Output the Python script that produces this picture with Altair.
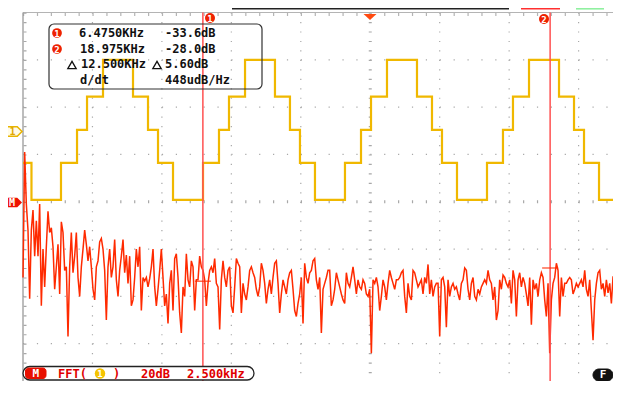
import altair as alt
import pandas as pd

# ---------------- data ----------------
# Channel 1 staircase: edge times (screen divisions) and level after each edge (divisions)
wave_t = [0.000, 0.122, 0.547, 0.778, 0.922, 1.152, 1.584, 1.800, 1.944, 2.160,
          2.592, 2.822, 2.966, 3.197, 3.628, 3.844, 3.988, 4.204, 4.636,
          4.867, 5.011, 5.241, 5.673, 5.889, 6.033, 6.249, 6.681,
          6.911, 7.055, 7.286, 7.718, 7.934, 8.078, 8.294, 8.582]
wave_level = [4.82, 4.04, 4.82, 5.52, 6.22, 7.0, 6.22, 5.52, 4.82, 4.04,
              4.82, 5.52, 6.22, 7.0, 6.22, 5.52, 4.82, 4.04, 4.82,
              5.52, 6.22, 7.0, 6.22, 5.52, 4.82, 4.04, 4.82,
              5.52, 6.22, 7.0, 6.22, 5.52, 4.82, 4.04, 4.04]

# FFT of CH1: one value (dB) per bin, bins 0.06 kHz apart from 0 kHz
fft_bin_khz = 0.06
fft_db = [
    -32, 21, -1, -12, -41, -12, -3.5, -23, -8, -23,
    -1, -44, -20, -36, -19, -4, -13, -11, -19, -37,
    -27.5, -18, -39, -8.5, -13, -29, -27.5, -57, -27.5, -13,
    -30, -23, -13, -32, -40, -27.5, -20, -12, -18, -25,
    -19, -27.5, -37, -41.5, -27.5, -25, -17, -15.5, -20, -29,
    -50, -27.5, -20, -32, -27.5, -16, -33, -40, -29, -23,
    -16, -30, -22.5, -34.5, -23, -44, -41.5, -32, -20, -27.5,
    -19, -46, -32, -33.5, -32, -36, -32.5, -27.5, -20, -36,
    -44, -37, -29, -20, -32, -44, -39, -51.5, -34.5, -29,
    -46, -24, -22, -32, -47, -55.5, -36, -40, -22, -33,
    -36, -25, -27.5, -46, -33, -33,
    -23, -27.5, -29, -33, -44, -34.5, -29, -27.5, -30, -24,
    -34.5, -36, -54, -33, -25, -32, -36, -29, -27.5, -44,
    -47, -36, -24, -26, -27.5, -47, -34.5, -39, -41.5, -36,
    -29, -27.5, -30, -32, -37, -40, -36, -26, -29, -34.5,
    -43, -37, -33, -39, -32, -26, -25, -34.5, -47, -39,
    -33, -36, -39, -33, -30, -29, -37, -46, -48.5, -43,
    -39, -32, -51.5, -26, -32, -34.5, -30, -29, -25, -24,
    -33, -37, -32, -55.5, -37, -34.5, -32, -29, -29, -44,
    -41.5, -37, -30, -33, -36, -39, -41.5, -43, -30, -34.5,
    -36, -32, -27.5, -33, -39, -33, -36, -37, -33, -34.5,
    -39, -40, -37, -64, -33, -34.5, -32, -36, -46, -40,
    -33, -36, -41.5, -34.5, -29, -32, -34.5, -37, -33, -33,
    -32, -30, -29, -40, -47, -34.5, -40, -41.5, -29, -30,
    -33, -36, -34.5, -33, -39, -32, -34.5, -26.5, -39, -33,
    -40, -36, -34.5, -34.5, -57, -33, -32, -36, -53, -33,
    -40, -36, -34.5, -37, -36, -39, -41.5, -34.5, -33, -28,
    -29, -37, -41.5, -34.5, -32, -40, -41.5, -37, -39, -36,
    -34.5, -33, -34.5, -29, -33, -34.5, -41.5, -36, -50, -46,
    -33, -37, -31, -32, -34.5, -36, -33, -43, -29, -33,
    -48.5, -33, -30, -36, -32, -34.5, -39, -44, -32, -52,
    -33, -37, -34.5, -40, -33, -30, -32, -41.5, -48.5, -34.5,
    -64, -41.5, -34.5, -32, -26, -29, -48.5, -32, -40, -34.5,
    -34.5, -33, -32, -33, -39, -37, -34.5, -36,
    -34.5, -33, -36, -29, -37, -40, -33, -46, -58.5, -41.5,
    -34.5, -30, -29, -37, -34.5, -40, -33, -38.5, -34.5, -43,
    -31.5, -36, -41.5, -37,
]

marker_names = ["1", "2"]
marker_khz = [6.475, 18.975]
marker_db = [-33.6, -28.0]

khz_per_div = 2.5      # FFT horizontal scale
db_per_div = 20.0      # FFT vertical scale
math_ref_div = 4.0     # "M" reference level (screen divisions)
screen_right_div = 8.58

grid_x = [1, 2, 3, 4, 6, 7, 8]
grid_y = [1, 2, 3, 5, 6, 7]

# ---------------- frames ----------------
wave_df = pd.DataFrame({"x": wave_t, "y": wave_level})
fft_df = pd.DataFrame({"khz": [i * fft_bin_khz for i in range(len(fft_db))], "db": fft_db})
fft_df["x"] = fft_df["khz"] / khz_per_div
fft_df["y"] = math_ref_div + fft_df["db"] / db_per_div
mk_df = pd.DataFrame({"name": marker_names, "khz": marker_khz, "db": marker_db})
mk_df["x"] = mk_df["khz"] / khz_per_div
mk_df["y"] = math_ref_div + mk_df["db"] / db_per_div
mk_df["top"] = 8.0
mk_df["bot"] = 0.0

gx_df = pd.DataFrame({"x": grid_x, "top": 8.0, "bot": 0.0})
gy_df = pd.DataFrame({"y": grid_y, "l": 0.0, "r": screen_right_div})
cx_df = pd.DataFrame({"x": [5.0], "top": [8.0], "bot": [0.0]})
cy_df = pd.DataFrame({"y": [4.0], "l": [0.0], "r": [screen_right_div]})
one = pd.DataFrame({"a": [0]})

W, H = 605, 373
xs = alt.Scale(domain=[0, 10], range=[15, 709.5], zero=False, nice=False)
ys = alt.Scale(domain=[0, 8], range=[383, 4.5], zero=False, nice=False)

def X(f):
    return alt.X(f, type="quantitative", scale=xs, axis=None)

def Y(f):
    return alt.Y(f, type="quantitative", scale=ys, axis=None)

MONO = "DejaVu Sans Mono"

def txt(s, x, y, color="#111111", size=12, align="left", weight="bold"):
    return alt.Chart(one).mark_text(text=s, align=align, baseline="middle", fontSize=size,
                                    fontWeight=weight, font=MONO, color=color).encode(
        x=alt.value(x), y=alt.value(y))

def hline(x1, x2, y, color, w=1.0, dash=None):
    kw = dict(color=color, strokeWidth=w)
    if dash:
        kw["strokeDash"] = dash
    return alt.Chart(one).mark_rule(**kw).encode(x=alt.value(x1), x2=alt.value(x2), y=alt.value(y))

def vline(x, y1, y2, color, w=1.0, dash=None):
    kw = dict(color=color, strokeWidth=w)
    if dash:
        kw["strokeDash"] = dash
    return alt.Chart(one).mark_rule(**kw).encode(x=alt.value(x), y=alt.value(y1), y2=alt.value(y2))

def box(x1, x2, y1, y2, fill, stroke, r, w=1.0, fop=1.0):
    return alt.Chart(one).mark_rect(fill=fill, fillOpacity=fop, stroke=stroke, strokeWidth=w,
                                    cornerRadius=r).encode(
        x=alt.value(x1), x2=alt.value(x2), y=alt.value(y1), y2=alt.value(y2))

def sym(shape, x, y, size, fill, stroke=None, sw=0, filled=True):
    kw = dict(shape=shape, size=size, filled=filled, opacity=1)
    if filled:
        kw["fill"] = fill
        kw["fillOpacity"] = 1
    if stroke:
        kw["stroke"] = stroke
        kw["strokeWidth"] = sw
    return alt.Chart(one).mark_point(**kw).encode(x=alt.value(x), y=alt.value(y))

DOT = "#a8a8a8"
layers = []

# grid dots
layers.append(alt.Chart(gx_df).mark_rule(color=DOT, strokeWidth=1.2, strokeDash=[1.2, 8.26]).encode(
    x=X("x"), y=Y("top"), y2="bot"))
layers.append(alt.Chart(gy_df).mark_rule(color=DOT, strokeWidth=1.2, strokeDash=[1.2, 12.69]).encode(
    x=X("l"), x2="r", y=Y("y")))
layers.append(alt.Chart(cx_df).mark_rule(color=DOT, strokeWidth=3, strokeDash=[1.2, 8.26]).encode(
    x=X("x"), y=Y("top"), y2="bot"))
layers.append(alt.Chart(cy_df).mark_rule(color=DOT, strokeWidth=3, strokeDash=[1.2, 12.69]).encode(
    x=X("l"), x2="r", y=Y("y")))

# borders and border ticks
layers.append(hline(15, 605, 4.5, "#b4b4b4", 1.2))
layers.append(hline(15, 605, 6.5, "#b4b4b4", 3, [1.2, 12.69]))
layers.append(vline(15, 4.5, 373, "#9a9a9a", 1.3))
layers.append(vline(17, 4.5, 373, "#a8a8a8", 3, [1.2, 8.26]))

# top status strip
layers.append(hline(224, 501, 0.8, "#222222", 1.6))
layers.append(hline(513, 552, 0.8, "#ff3030", 1.6))
layers.append(hline(568, 596, 0.8, "#90f0a0", 1.6))

# CH1 waveform
layers.append(alt.Chart(wave_df).mark_line(interpolate="step-after", color="#f0b800", strokeWidth=2.2,
                                           clip=True).encode(x=X("x"), y=Y("y")))

# FFT spectrum
layers.append(alt.Chart(fft_df).mark_line(color="#ff2a00", strokeWidth=1.5, clip=True).encode(
    x=X("x"), y=Y("y")))

# marker cursors
layers.append(alt.Chart(mk_df).mark_rule(color="#ff5050", strokeWidth=1.5).encode(
    x=X("x"), y=Y("top"), y2="bot"))
layers.append(alt.Chart(mk_df).mark_tick(color="#ff2a00", orient="horizontal", size=16, thickness=1.5).encode(
    x=X("x"), y=Y("y")))

# trigger marker
layers.append(sym("M-1,-0.45L1,-0.45L0,0.45Z", 362, 9, 169, "#ff4a10"))

# top marker badges
for nm, bx, by in [("1", 202, 10), ("2", 536, 11)]:
    layers.append(sym("circle", bx, by, 100, "#ee2200"))
    layers.append(txt(nm, bx, by + 0.5, "white", 9, "center"))

# channel / math tags at the left
layers.append(sym("M-1,-0.5L0.5,-0.5L1,0L0.5,0.5L-1,0.5Z", 4.5, 123.5, 361, "#fffbe6", "#e8b400", 1.5))
layers.append(txt("1", 4.5, 123.5, "#e0a800", 10, "center"))
layers.append(sym("M-1,-0.5L0.5,-0.5L1,0L0.5,0.5L-1,0.5Z", 4.5, 194.5, 361, "#ee1100"))
layers.append(txt("M", 4, 194.5, "white", 10, "center"))

# marker readout box
layers.append(box(41, 254, 16, 81, "white", "#333333", 5, 1.2, 0))
for nm, cy in [("1", 25), ("2", 41)]:
    layers.append(sym("circle", 49, cy, 95, "#ee2200"))
    layers.append(txt(nm, 49, cy + 0.5, "white", 9, "center"))
layers.append(txt("6.4750KHz", 71, 25))
layers.append(txt("-33.6dB", 157, 25))
layers.append(txt("18.975KHz", 72, 41))
layers.append(txt("-28.0dB", 157, 41))
layers.append(sym("triangle-up", 64, 57, 70, None, "#111111", 1.3, filled=False))
layers.append(txt("12.500KHz", 73, 56))
layers.append(sym("triangle-up", 149, 57, 70, None, "#111111", 1.3, filled=False))
layers.append(txt("5.60dB", 157, 56))
layers.append(txt("d/dt", 72, 72))
layers.append(txt("448udB/Hz", 157, 72))

# bottom status bar (moved up to stay inside the page)
BY = 365.5
layers.append(box(15, 246, BY - 7, BY + 6.5, "white", "#222222", 7, 1.3))
layers.append(box(17.5, 38, BY - 5.5, BY + 5, "#e81000", "#e81000", 3, 1))
layers.append(txt("M", 27.8, BY, "white", 11, "center"))
layers.append(txt("FFT(", 50, BY, "#e00000", 12))
layers.append(sym("circle", 92, BY, 110, "#f5c400"))
layers.append(txt("1", 92, BY + 0.5, "white", 9, "center"))
layers.append(txt(")", 105, BY, "#e00000", 12))
layers.append(txt("20dB", 133, BY, "#e00000", 12))
layers.append(txt("2.500kHz", 179, BY, "#e00000", 12))

# F badge
layers.append(box(585, 605, 361, 373, "#111111", "#111111", 6, 1))
layers.append(txt("F", 595, 367, "white", 11, "center"))

chart = alt.layer(*layers).properties(
    width=W, height=H,
    autosize=alt.AutoSizeParams(type="none"),
    padding={"left": 0, "right": 0, "top": 0, "bottom": 0},
    background="white",
).configure_view(stroke=None)

chart.save("out.html", embed_options={"renderer": "svg", "actions": False})
